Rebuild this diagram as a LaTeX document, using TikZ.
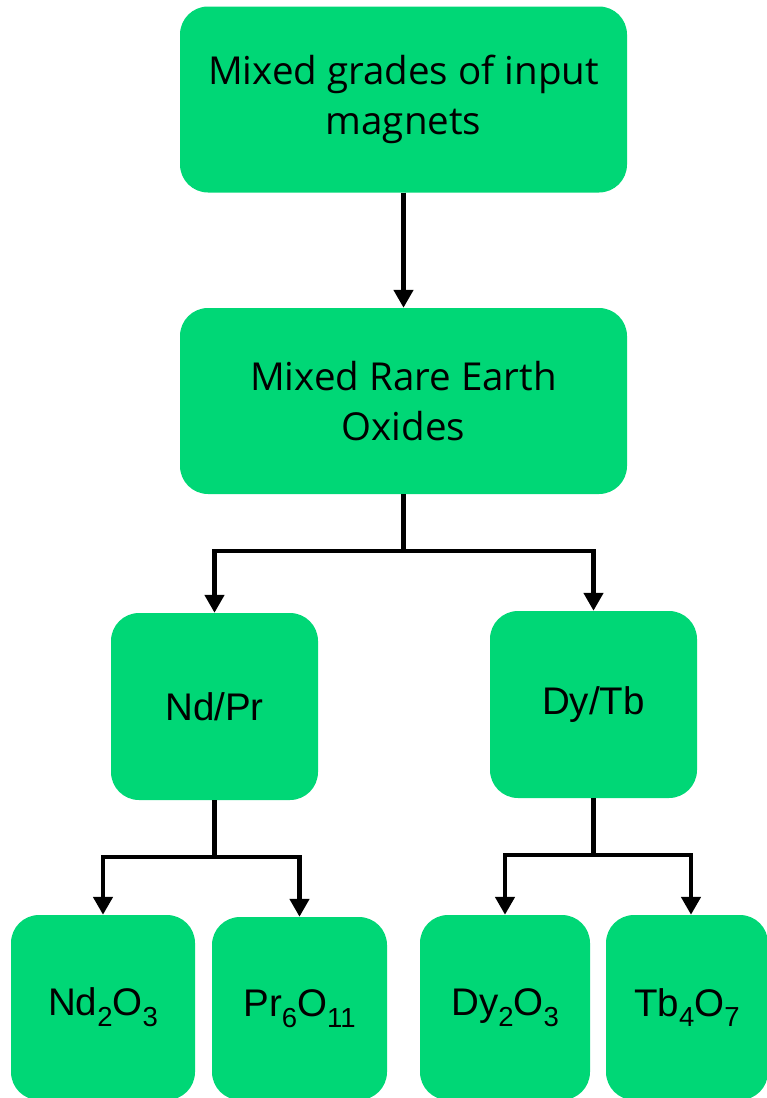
\documentclass[tikz,border=0pt]{standalone}
\usepackage{fontspec}
\usetikzlibrary{arrows.meta,calc}
\newfontfamily\topfont{Open Sans}
\newfontfamily\arialfont{Liberation Sans}
\definecolor{boxgreen}{RGB}{0,215,118}
\newcommand{\chemsub}[1]{\raisebox{-10.7pt}{\fontsize{27.5}{30}\selectfont #1}}
\tikzset{
  box/.style={fill=boxgreen, rounded corners=28pt, inner sep=0pt, align=center, text=black},
  topbox/.style={box, minimum width=447pt, minimum height=186pt, font=\topfont\fontsize{38.5}{50}\selectfont},
  midbox/.style={box, minimum width=207pt, minimum height=187pt, font=\arialfont\fontsize{38.5}{46}\selectfont},
  leafbox/.style={box, minimum height=185pt, font=\arialfont\fontsize{38.5}{46}\selectfont},
  arr/.style={line width=4.5pt, -{Triangle[width=19pt,length=18pt]}},
}
\begin{document}
\begin{tikzpicture}[x=1pt,y=-1pt]
\useasboundingbox (0,0) rectangle (766,1098);
\node[topbox] (b1) at (403.5,99.5) {Mixed grades of input\\magnets};
\node[topbox] (b2) at (403.5,401) {Mixed Rare Earth\\Oxides};
\node[midbox] (ndpr) at (214.5,706.5) {Nd/Pr};
\node[midbox] (dytb) at (593.5,704.5) {Dy/Tb};
\node[leafbox, minimum width=184pt] (nd) at (103,1007.5) {Nd\chemsub{2}O\chemsub{3}};
\node[leafbox, minimum width=175pt, minimum height=183pt] (pr) at (299.5,1008.5) {Pr\chemsub{6}O\chemsub{11}};
\node[leafbox, minimum width=170pt] (dy) at (505,1007.5) {Dy\chemsub{2}O\chemsub{3}};
\node[leafbox, minimum width=162pt] (tb) at (687,1007.5) {Tb\chemsub{4}O\chemsub{7}};
\draw[arr] (b1.south) -- (b2.north);
\draw[arr] (b2.south) -- ++(0,57) -| (ndpr.north);
\draw[arr] (b2.south) -- ++(0,57) -| (dytb.north);
\draw[arr] (ndpr.south) -- ++(0,57) -| (nd.north);
\draw[arr] (ndpr.south) -- ++(0,57) -| (pr.north);
\draw[arr] (dytb.south) -- ++(0,57) -| (dy.north);
\draw[arr] (dytb.south) -- ++(0,57) -| ($(tb.north)+(4,0)$);
\end{tikzpicture}
\end{document}
